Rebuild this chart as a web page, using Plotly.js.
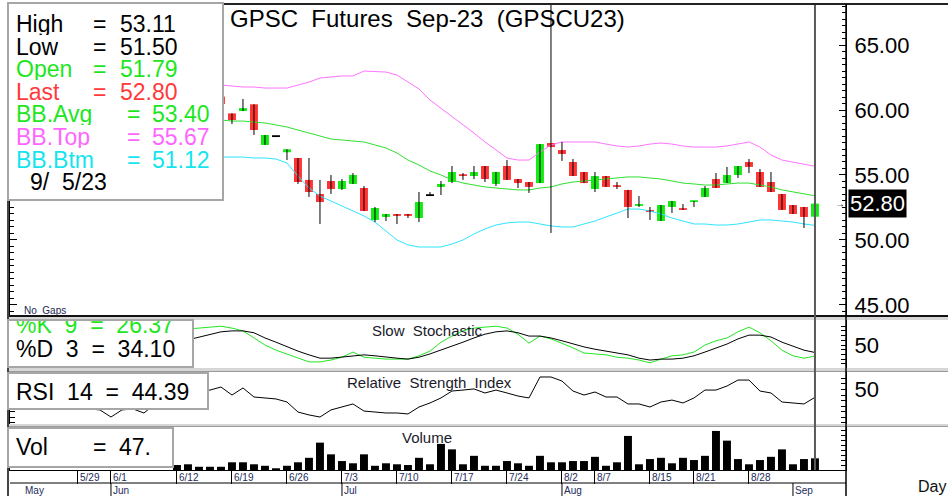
<!DOCTYPE html>
<html><head><meta charset="utf-8">
<script src="https://cdn.plot.ly/plotly-3.0.1.min.js"></script>
<style>html,body{margin:0;padding:0;background:#fff;}#chart{width:948px;height:496px;}</style>
</head><body><div id="chart"></div>
<script>
// ---------- DATA (bar index 0 = 6/12) ----------
const ohlcStart = 4;
const openP  = [61.03,59.74,59.92,60.44,57.31,57.92,56.75,56.31,54.62,53.54,54.54,53.92,54.31,54.00,51.54,51.77,52.00,52.00,51.69,53.38,54.08,54.46,55.00,54.92,55.69,54.31,55.69,54.69,54.46,54.38,57.46,56.92,56.00,55.23,53.92,54.92,54.15,53.85,52.62,52.31,51.46,52.54,52.38,52.92,53.31,54.69,54.38,55.00,56.00,55.23,54.46,53.54,52.69,52.54,51.79];
const highP  = [61.10,59.74,60.85,60.44,58.08,57.92,56.98,56.31,56.31,54.62,55.00,54.69,55.15,54.15,52.54,52.00,52.00,52.00,53.69,53.69,54.54,55.69,55.15,55.69,55.69,55.23,56.15,54.69,54.46,57.38,68.50,57.54,56.23,55.23,55.23,54.92,54.46,53.85,53.38,52.54,52.69,53.00,52.77,53.00,54.15,55.15,55.62,55.69,56.23,55.46,55.23,53.54,52.69,52.54,53.11];
const lowP   = [60.40,58.92,59.92,58.08,57.31,57.92,56.15,54.31,53.31,51.23,53.54,53.85,54.31,52.23,51.38,51.46,51.23,51.69,51.38,53.38,53.46,54.38,54.62,54.69,54.46,54.15,54.62,54.00,53.62,54.38,50.54,56.08,54.92,54.38,53.69,54.08,53.92,51.69,52.54,51.54,51.46,52.08,52.31,52.54,53.31,54.00,54.38,54.77,55.15,54.08,53.69,52.31,52.00,50.92,51.50];
const closeP = [60.46,59.23,60.15,58.46,58.08,57.92,56.98,54.46,53.69,52.92,53.92,54.54,55.00,52.23,52.46,52.00,51.85,51.85,52.92,53.38,54.31,55.23,54.92,55.23,54.69,55.23,54.62,54.38,54.08,57.38,57.15,56.62,54.92,54.38,54.92,54.08,54.08,52.54,52.77,52.15,52.69,53.00,52.31,53.00,54.00,54.00,55.00,55.69,55.62,54.08,53.69,52.31,52.00,51.77,52.80];

const bbStart = 4;
const bbTop = [61.92,61.85,61.77,61.77,61.69,61.69,61.69,61.92,62.15,62.46,62.54,62.62,62.62,63.00,62.96,62.92,62.69,62.15,61.62,60.77,60.15,59.46,58.85,58.23,57.54,56.92,56.31,56.15,56.15,56.77,57.31,57.54,57.54,57.54,57.54,57.38,57.23,57.15,57.23,57.38,57.46,57.38,57.23,57.15,57.15,57.15,57.23,57.38,57.54,57.15,56.54,56.15,56.00,55.85,55.67];
const bbAvg = [59.23,59.15,59.15,59.08,59.00,58.85,58.69,58.46,58.23,58.00,57.77,57.69,57.62,57.54,57.31,57.08,56.69,56.15,55.77,55.31,55.00,54.62,54.38,54.23,54.08,54.00,53.92,53.85,53.85,54.00,54.08,54.31,54.46,54.54,54.62,54.69,54.77,54.85,54.85,54.77,54.69,54.54,54.38,54.31,54.23,54.23,54.31,54.38,54.38,54.23,54.08,53.85,53.69,53.54,53.40];
const bbBtm = [56.38,56.38,56.38,56.31,56.31,56.23,55.92,54.92,54.00,53.38,53.00,52.62,52.23,51.85,51.38,50.69,50.00,49.62,49.46,49.46,49.46,49.69,50.00,50.46,50.85,51.15,51.31,51.38,51.38,51.23,51.08,51.00,51.00,51.23,51.46,51.77,52.08,52.38,52.38,52.23,52.00,51.69,51.46,51.23,51.23,51.15,51.15,51.23,51.38,51.54,51.54,51.46,51.38,51.23,51.12];

const stochStart = 1;
const stochK = [84,86,88,90,86,80,65,50,39,31,22,14,14,18,24,35,24,22,20,20,20,27,37,56,69,80,86,88,90,86,73,54,69,63,54,44,33,31,29,24,22,18,12,20,27,29,35,50,59,65,78,88,76,59,39,27,22,26.37];
const stochD = [61,67,73,78,80,80,76,65,56,46,37,29,22,22,24,27,29,27,24,22,20,24,31,39,48,56,65,73,78,80,76,69,69,65,59,52,46,41,37,33,29,22,18,20,20,22,27,35,44,52,63,71,71,67,56,48,39,34.10];

const rsiStart = -8;
const rsi = [36.0,35.3,30.2,35.3,36.0,33.1,39.6,43.9,46.0,47.5,48.9,49.6,51.8,46.0,51.1,44.6,43.9,43.2,41.0,33.8,31.7,30.2,35.3,37.4,39.6,34.5,33.8,33.1,33.1,32.4,37.4,40.3,43.9,48.9,49.6,50.4,47.5,49.6,47.5,45.3,43.9,59.0,59.0,56.1,48.9,46.0,48.2,44.6,44.6,39.6,39.6,37.4,41.0,42.4,40.3,43.9,49.6,49.6,52.5,56.8,56.8,48.9,47.5,41.0,40.3,39.6,44.39];

const volStart = 0;
const volume = [20,23,13,13,13,31,31,23,17,7,17,31,49,110,63,36,27,63,17,27,23,20,49,23,105,83,23,57,17,17,36,27,17,57,31,31,36,36,53,17,31,137,23,44,49,27,49,40,57,157,118,44,23,40,53,83,23,44,47];

const dayTickIdx  = [-9,-6,0,5,10,15,20,25,30,35,38,43,47,52];
const dayTickText = ["5/29","6/1","6/12","6/19","6/26","7/3","7/10","7/17","7/24","8/2","8/7","8/15","8/21","8/28"];
const monthIdx  = [-14,-6,15,35,56];
const monthText = ["May","Jun","Jul","Aug","Sep"];
const priceTicks = [45,50,55,60,65];
const lastDateText = "9/\u00a0\u00a05/23";
const chartTitle = "GPSC\u00a0\u00a0Futures\u00a0\u00a0Sep-23\u00a0\u00a0(GPSCU23)";

// ---------- helpers ----------
const FONT = 'Liberation Sans, Arial, sans-serif';
const L=10, R=846, T=5, B=470, PW=R-L, PH=B-T;
const fx = x => (x-L)/PW;
const fy = y => (B-y)/PH;
const seq = (start, n) => Array.from({length:n}, (_, k) => start + k);

const ohlcX = seq(ohlcStart, openP.length);
const bbX = seq(bbStart, bbAvg.length);
const stX = seq(stochStart, stochK.length);
const rsiX = seq(rsiStart, rsi.length);
const volX = seq(volStart, volume.length);
const lastIdx = ohlcX[ohlcX.length-1];
const li = openP.length-1;

const GREEN='#14ec14', RED='#ff3434';
const wx=[], wy=[];
ohlcX.forEach((x,k)=>{ wx.push(x,x,null); wy.push(lowP[k],highP[k],null); });
const bodyBase = openP.map((o,k)=>Math.min(o,closeP[k]));
const bodyH = openP.map((o,k)=>Math.max(Math.abs(closeP[k]-o),0.14));
const bodyCol = openP.map((o,k)=> closeP[k]>o ? GREEN : (closeP[k]<o ? RED : '#000000'));

const traces = [
 {type:'scatter',mode:'lines',x:bbX,y:bbTop,line:{color:'#ff74ff',width:1},xaxis:'x',yaxis:'y'},
 {type:'scatter',mode:'lines',x:bbX,y:bbAvg,line:{color:'#30e030',width:1},xaxis:'x',yaxis:'y'},
 {type:'scatter',mode:'lines',x:bbX,y:bbBtm,line:{color:'#30e4ff',width:1},xaxis:'x',yaxis:'y'},
 {type:'scatter',mode:'lines',x:wx,y:wy,line:{color:'#000000',width:1},xaxis:'x',yaxis:'y'},
 {type:'bar',x:ohlcX,y:bodyH,base:bodyBase,width:0.72,marker:{color:bodyCol,line:{width:0}},xaxis:'x',yaxis:'y'},
 {type:'scatter',mode:'lines',x:stX,y:stochK,line:{color:'#22e822',width:1},xaxis:'x',yaxis:'y2'},
 {type:'scatter',mode:'lines',x:stX,y:stochD,line:{color:'#000000',width:1},xaxis:'x',yaxis:'y2'},
 {type:'scatter',mode:'lines',x:rsiX,y:rsi,line:{color:'#000000',width:1},xaxis:'x',yaxis:'y3'},
 {type:'bar',x:volX,y:volume,width:0.72,marker:{color:'#000000',line:{width:0}},xaxis:'x',yaxis:'y4'}
];

const axBase = {showgrid:false,zeroline:false,fixedrange:true,showline:true,linecolor:'#000',linewidth:1,
  side:'right',anchor:'x',ticks:'inside',tickcolor:'#000',tickwidth:1,mirror:'allticks',
  tickfont:{family:FONT,size:22,color:'#000'},ticklabelstandoff:3};
const rng = (a,b,s)=>{const r=[];for(let v=a;v<=b+1e-9;v+=s)r.push(+v.toFixed(4));return r;};
const stTicks = rng(10,90,10), rsiTicks = rng(26,62,4);

const layout = {
 width:948,height:496,margin:{l:L,r:948-R,t:T,b:496-B},
 paper_bgcolor:'#fff',plot_bgcolor:'#fff',showlegend:false,barmode:'overlay',
 xaxis:{domain:[0,1],range:[-15.18,60.82],anchor:'y4',showgrid:false,zeroline:false,fixedrange:true,
   showline:true,linecolor:'#000',linewidth:1,ticks:'outside',ticklen:13,tickcolor:'#000',tickwidth:1,
   tickmode:'array',tickvals:dayTickIdx,showticklabels:false},
 yaxis:Object.assign({},axBase,{domain:[fy(316),1],range:[44.15,68.08],tickmode:'array',tickvals:priceTicks,
   ticktext:priceTicks.map(v=>v.toFixed(2)),ticklen:7,
   minor:{tickmode:'linear',tick0:0,dtick:0.5,ticks:'inside',ticklen:4,tickcolor:'#000',showgrid:false}}),
 yaxis2:Object.assign({},axBase,{domain:[fy(368),fy(320)],range:[1.06,103.2],tickmode:'array',tickvals:stTicks,
   ticktext:stTicks.map(v=>v===50?'50':''),ticklen:5}),
 yaxis3:Object.assign({},axBase,{domain:[fy(424),fy(372)],range:[25.18,62.59],tickmode:'array',tickvals:rsiTicks,
   ticktext:rsiTicks.map(v=>v===50?'50':''),ticklen:5}),
 yaxis4:Object.assign({},axBase,{domain:[0,fy(427)],range:[0,172.9],tickmode:'linear',tick0:0,dtick:20,
   showticklabels:false,ticklen:5})
};

// ---------- annotations ----------
const A = [];
function ann(text,x,y,size,color,extra){A.push(Object.assign({xref:'paper',yref:'paper',x:fx(x),y:fy(y),
  xanchor:'left',yanchor:'middle',text:text,showarrow:false,borderpad:0,
  font:{family:FONT,size:size,color:color}},extra||{}));}
const BLK='#000', GT='#1ee61e', RT='#ff3a3a', MT='#ff66ff', CT='#14e4ee';
const LF = 23, RH = {height:22, valign:'middle'};
const rows = [
 ['High',highP[li].toFixed(2),BLK,92,119],
 ['Low',lowP[li].toFixed(2),BLK,92,119],
 ['Open',openP[li].toFixed(2),GT,92,119],
 ['Last',closeP[li].toFixed(2),RT,92,119],
 ['BB.Avg',bbAvg[bbAvg.length-1].toFixed(2),GT,126,151],
 ['BB.Top',bbTop[bbTop.length-1].toFixed(2),MT,126,151],
 ['BB.Btm',bbBtm[bbBtm.length-1].toFixed(2),CT,126,151]
];
rows.forEach((r,k)=>{const y=24+k*22.6; ann(r[0],15,y,LF,r[2],RH); ann('=',r[3],y,LF,r[2],RH); ann(r[1],r[4],y,LF,r[2],RH);});
ann(lastDateText,29,24+7*22.6,LF,BLK,RH);
ann(chartTitle,229,18,24,BLK);
ann('No\u00a0\u00a0Gaps',23,310,10,'#1a2550');
// stochastic box
ann('%K\u00a0\u00a09\u00a0\u00a0=\u00a0\u00a0'+stochK[stochK.length-1].toFixed(2),15,329,LF,GT,{height:17,valign:'bottom'});
ann('%D\u00a0\u00a03\u00a0\u00a0=\u00a0\u00a0'+stochD[stochD.length-1].toFixed(2),15,349,LF,BLK,{height:22,valign:'middle'});
ann('Slow\u00a0\u00a0Stochastic',371,330,15,'#1a1a2a');
ann('RSI\u00a0\u00a014\u00a0\u00a0=\u00a0\u00a0'+rsi[rsi.length-1].toFixed(2),15,392,LF,BLK);
ann('Relative\u00a0\u00a0Strength\u00a0\u00a0Index',346,382,15,'#1a1a2a');
ann('Vol',15,447,LF,BLK); ann('=',92,447,LF,BLK); ann(String(volume[volume.length-1])+'.',118,447,LF,BLK);
ann('Volume',401,437,15,'#1a1a2a');
ann('Day',917,486,16,'#111');
ann('\u2192',834,203,10,BLK);
// last price tag
A.push({xref:'paper',yref:'y',x:fx(848),y:closeP[li],xanchor:'left',yanchor:'middle',text:closeP[li].toFixed(2),
  showarrow:false,bgcolor:'#000',borderpad:1,font:{family:FONT,size:22,color:'#fff'}});
// date labels
dayTickIdx.forEach((v,k)=>A.push({xref:'x',yref:'paper',x:v,y:fy(477),xanchor:'left',yanchor:'middle',xshift:1,
  text:dayTickText[k],showarrow:false,borderpad:0,font:{family:FONT,size:10,color:'#1c2c5c'}}));
monthIdx.forEach((v,k)=>A.push({xref:'x',yref:'paper',x:v,y:fy(490),xanchor:'left',yanchor:'middle',xshift:1,
  text:monthText[k],showarrow:false,borderpad:0,font:{family:FONT,size:10,color:'#1c2c5c'}}));
layout.annotations = A;

// ---------- shapes (frames, separators, boxes) ----------
const S = [];
const hline=(y,x0,x1,c,w)=>S.push({type:'line',xref:'paper',yref:'paper',x0:fx(x0),x1:fx(x1),y0:fy(y),y1:fy(y),line:{color:c,width:w},layer:'above'});
const vline=(x,y0,y1,c,w)=>S.push({type:'line',xref:'paper',yref:'paper',x0:fx(x),x1:fx(x),y0:fy(y0),y1:fy(y1),line:{color:c,width:w},layer:'above'});
const band=(y0,y1)=>{S.push({type:'rect',xref:'paper',yref:'paper',x0:fx(7),x1:fx(948),y0:fy(y1),y1:fy(y0),fillcolor:'#d6d6d6',line:{width:0},layer:'above'});};
hline(4,7,948,'#222',2);
hline(316,7,948,'#111',2);
band(317,320); band(368,372); band(424,427);
hline(371.5,7,948,'#9a9a9a',1); hline(426.5,7,948,'#9a9a9a',1);
vline(8,4,496,'#444',2);
vline(846,4,496,'#000',1.5);
hline(483,10,846,'#000',1);
monthIdx.slice(1).forEach(v=>S.push({type:'line',xref:'x',yref:'paper',x0:v,x1:v,y0:fy(496),y1:fy(483),line:{color:'#000',width:1}}));
// current bar cursor
S.push({type:'line',xref:'x',yref:'paper',x0:lastIdx,x1:lastIdx,y0:0,y1:1,line:{color:'#5a5a5a',width:2},layer:'above'});
// info boxes
const box=(x0,y0,x1,y1)=>S.push({type:'rect',xref:'paper',yref:'paper',x0:fx(x0),x1:fx(x1),y0:fy(y1),y1:fy(y0),fillcolor:'#fff',line:{color:'#a6a6a6',width:2},layer:'above'});
box(8,3,223,200);
box(8,320,193,367);
box(8,373,208,409);
box(8,428,173,467);
layout.shapes = S;

Plotly.newPlot('chart',traces,layout,{staticPlot:true,displayModeBar:false});
</script></body></html>
